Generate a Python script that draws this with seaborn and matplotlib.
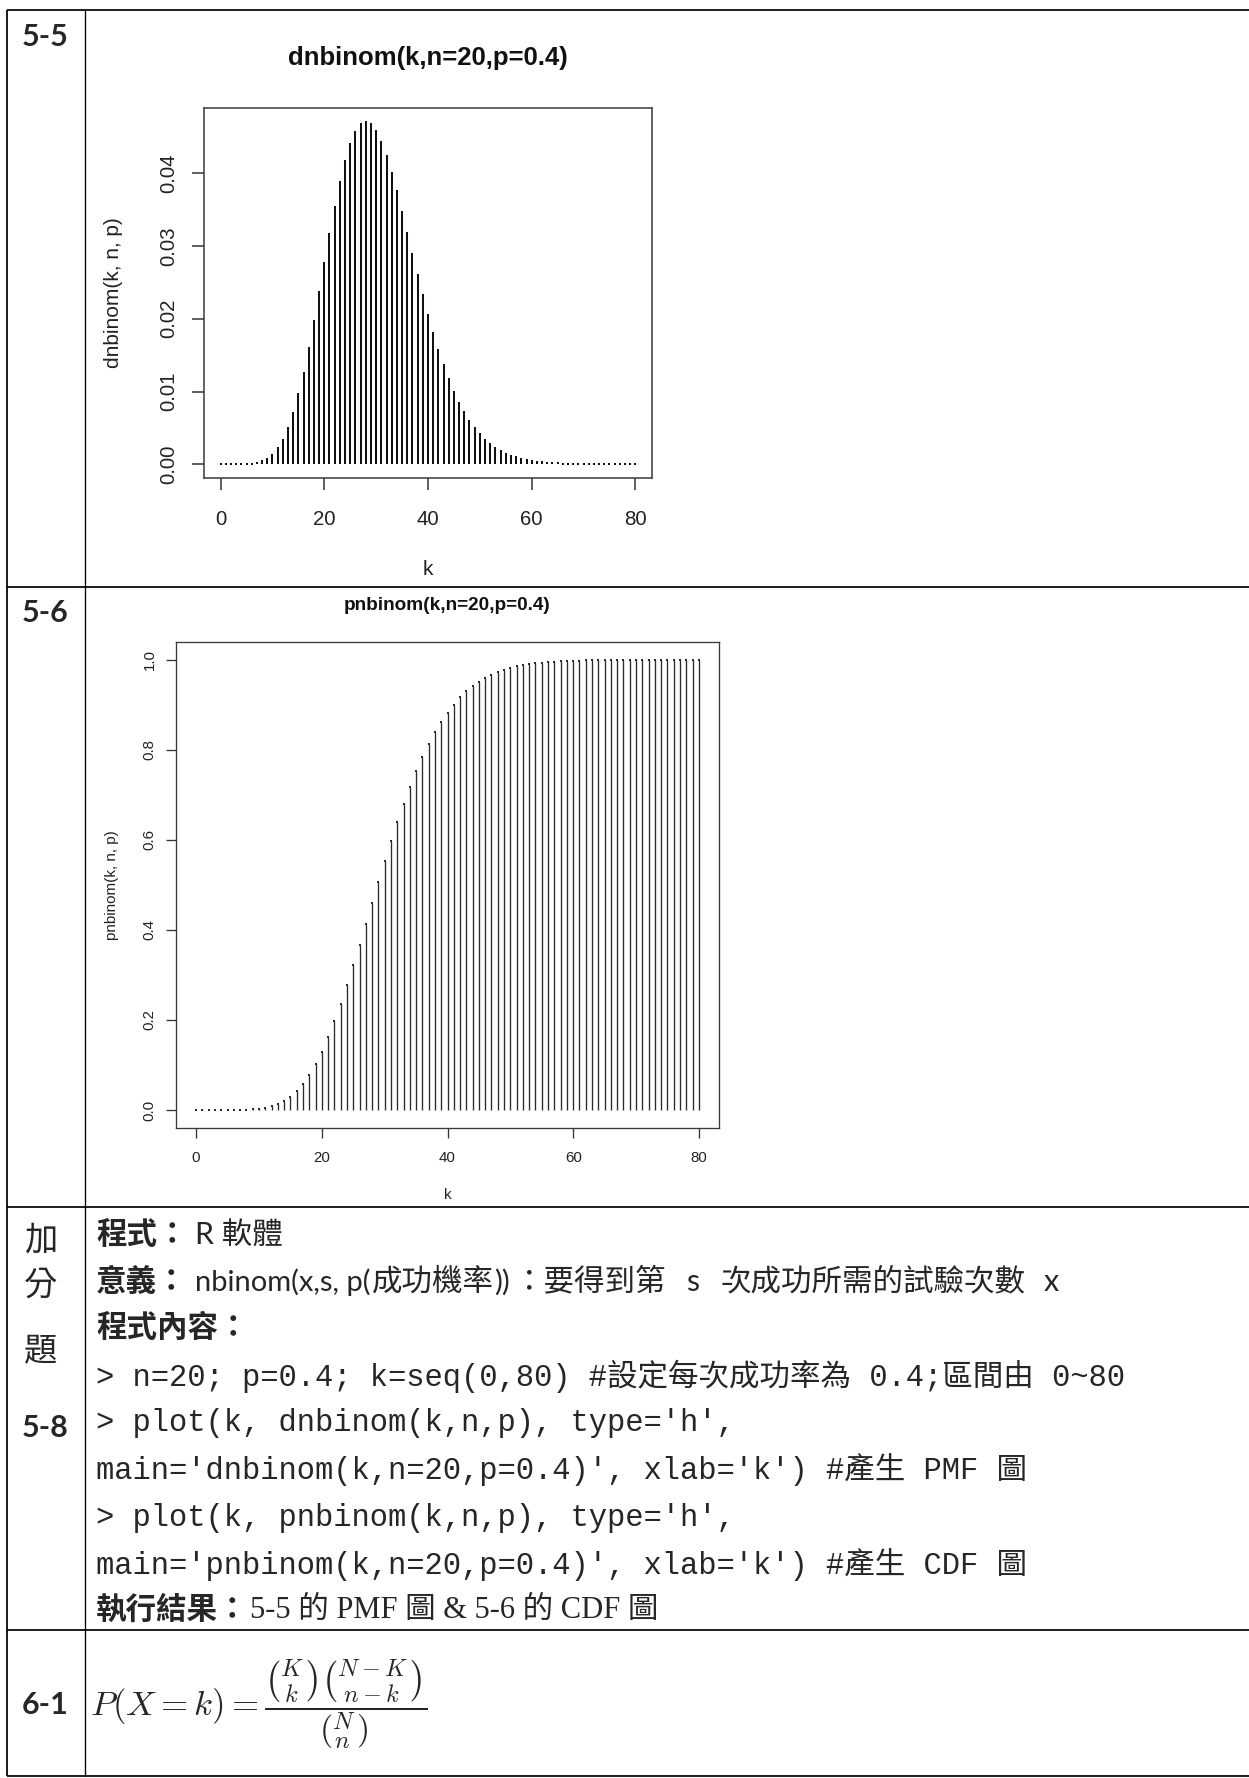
import matplotlib
matplotlib.use("Agg")
import matplotlib.pyplot as plt
import pandas as pd
import seaborn as sns

# k = seq(0, 80)
k_vals = [0, 1, 2, 3, 4, 5, 6, 7, 8, 9, 10, 11, 12, 13, 14, 15, 16, 17, 18, 19, 20,
          21, 22, 23, 24, 25, 26, 27, 28, 29, 30, 31, 32, 33, 34, 35, 36, 37, 38, 39, 40,
          41, 42, 43, 44, 45, 46, 47, 48, 49, 50, 51, 52, 53, 54, 55, 56, 57, 58, 59, 60,
          61, 62, 63, 64, 65, 66, 67, 68, 69, 70, 71, 72, 73, 74, 75, 76, 77, 78, 79, 80]

# dnbinom(k, 20, 0.4) 讀圖估計
pmf_vals = [0.000000, 0.000000, 0.000001, 0.000004, 0.000013, 0.000036, 0.000091,
            0.000202, 0.000410, 0.000765, 0.001332, 0.002179, 0.003378, 0.004989,
            0.007055, 0.009595, 0.012593, 0.016001, 0.019735, 0.023682, 0.027707,
            0.031666, 0.035408, 0.038795, 0.041704, 0.044040, 0.045734, 0.046750,
            0.047084, 0.046759, 0.045824, 0.044346, 0.042406, 0.040093, 0.037498,
            0.034713, 0.031820, 0.028896, 0.026007, 0.023206, 0.020537, 0.018033,
            0.015714, 0.013595, 0.011679, 0.009966, 0.008449, 0.007119, 0.005962,
            0.004964, 0.004111, 0.003385, 0.002773, 0.002260, 0.001833, 0.001480,
            0.001189, 0.000952, 0.000758, 0.000601, 0.000475, 0.000374, 0.000293,
            0.000229, 0.000178, 0.000138, 0.000107, 0.000082, 0.000063, 0.000048,
            0.000037, 0.000028, 0.000021, 0.000016, 0.000012, 0.000009, 0.000007,
            0.000005, 0.000004, 0.000003, 0.000002]

# pnbinom(k, 20, 0.4) 讀圖估計
cdf_vals = [0.0000, 0.0000, 0.0000, 0.0000, 0.0000, 0.0001, 0.0001, 0.0003, 0.0008,
            0.0015, 0.0029, 0.0050, 0.0084, 0.0134, 0.0205, 0.0300, 0.0426, 0.0586,
            0.0784, 0.1021, 0.1298, 0.1614, 0.1968, 0.2356, 0.2773, 0.3214, 0.3671,
            0.4139, 0.4609, 0.5077, 0.5535, 0.5979, 0.6403, 0.6804, 0.7179, 0.7526,
            0.7844, 0.8133, 0.8393, 0.8625, 0.8831, 0.9011, 0.9168, 0.9304, 0.9421,
            0.9520, 0.9605, 0.9676, 0.9736, 0.9785, 0.9826, 0.9860, 0.9888, 0.9911,
            0.9929, 0.9944, 0.9956, 0.9965, 0.9973, 0.9979, 0.9983, 0.9987, 0.9990,
            0.9992, 0.9994, 0.9996, 0.9997, 0.9997, 0.9998, 0.9999, 0.9999, 0.9999,
            0.9999, 1.0000, 1.0000, 1.0000, 1.0000, 1.0000, 1.0000, 1.0000, 1.0000]

pmf_title = "dnbinom(k,n=20,p=0.4)"
cdf_title = "pnbinom(k,n=20,p=0.4)"
pmf_ylabel = "dnbinom(k, n, p)"
cdf_ylabel = "pnbinom(k, n, p)"
x_label = "k"
x_ticks = [0, 20, 40, 60, 80]
x_tick_labels = ["0", "20", "40", "60", "80"]
pmf_yticks = [0.00, 0.01, 0.02, 0.03, 0.04]
pmf_ytick_labels = ["0.00", "0.01", "0.02", "0.03", "0.04"]
cdf_yticks = [0.0, 0.2, 0.4, 0.6, 0.8, 1.0]
cdf_ytick_labels = ["0.0", "0.2", "0.4", "0.6", "0.8", "1.0"]

bonus_chars = ["加", "分", "題"]
code_lines = [
    "> n=20; p=0.4; k=seq(0,80) #設定每次成功率為 0.4;區間由 0~80",
    "> plot(k, dnbinom(k,n,p), type='h',",
    "main='dnbinom(k,n=20,p=0.4)', xlab='k') #產生 PMF 圖",
    "> plot(k, pnbinom(k,n,p), type='h',",
    "main='pnbinom(k,n=20,p=0.4)', xlab='k') #產生 CDF 圖",
]
formula = r"$P(X=k)=\dfrac{\binom{K}{k}\binom{N-K}{n-k}}{\binom{N}{n}}$"

df = pd.DataFrame({"k": k_vals, "pmf": pmf_vals, "cdf": cdf_vals})

sns.set_theme(style="ticks")
plt.rcParams["font.family"] = ["Liberation Sans", "Noto Sans CJK TC"]
plt.rcParams["mathtext.fontset"] = "cm"

W, H = 1249, 1778
fig = plt.figure(figsize=(W / 100, H / 100), dpi=100)
fig.patch.set_facecolor("white")
renderer = fig.canvas.get_renderer()

# 整頁座標（像素）
page = fig.add_axes([0, 0, 1, 1], zorder=0)
page.set_xlim(0, W)
page.set_ylim(H, 0)
page.axis("off")

CJK = ["Noto Sans CJK TC"]
LABEL = ["Lato", "DejaVu Sans"]
MONO = ["Liberation Mono", "Noto Sans CJK TC"]
SERIF = ["Liberation Serif", "Noto Sans CJK TC"]
SANS = ["Lato", "Noto Sans CJK TC"]

# 表格框線
thick, thin = 1.25, 0.95
for yy in [10, 587, 1207, 1630, 1776]:
    page.plot([7, W], [yy, yy], color="black", lw=thick, solid_capstyle="butt")
page.plot([7, 7], [10, 1776], color="black", lw=thick, solid_capstyle="butt")
page.plot([85, 85], [10, 1776], color="black", lw=thin, solid_capstyle="butt")


def draw_h(box, col, lw, color, dot, ylim, yticks, ylabels, title, ylabel,
           fs_title, fs_tick, fs_lab, tick_len, xpad, ypad, spine_lw,
           title_y, ylab_x, xlab_y):
    l, t, r, b = box
    ax = fig.add_axes([l / W, 1 - b / H, (r - l) / W, (b - t) / H], zorder=2)
    ax.vlines(df["k"], 0, df[col], colors=color, linewidth=lw)
    sns.scatterplot(data=df, x="k", y=col, ax=ax, marker="s", s=dot,
                    color=color, linewidth=0, legend=False, zorder=3)
    ax.set_xlim(-3.2, 83.2)
    ax.set_ylim(*ylim)
    ax.set_xticks(x_ticks)
    ax.set_xticklabels(x_tick_labels, fontsize=fs_tick, color="#222222")
    ax.set_yticks(yticks)
    ax.set_yticklabels(ylabels, fontsize=fs_tick, color="#222222",
                       rotation=90, va="center")
    ax.tick_params(axis="both", direction="out", length=tick_len,
                   width=spine_lw, color="#333333")
    ax.tick_params(axis="x", pad=xpad)
    ax.tick_params(axis="y", pad=ypad)
    for sp in ax.spines.values():
        sp.set_visible(True)
        sp.set_linewidth(spine_lw)
        sp.set_color("#3a3a3a")
    ax.grid(False)
    ax.set_title(title, fontsize=fs_title, fontweight="bold", pad=0,
                 y=(b - title_y) / (b - t), va="center", color="#111111")
    ax.set_xlabel(x_label, fontsize=fs_lab, color="#222222")
    ax.xaxis.set_label_coords(0.5, (b - xlab_y) / (b - t))
    ax.xaxis.label.set_va("center")
    ax.set_ylabel(ylabel, fontsize=fs_lab, color="#222222")
    ax.yaxis.set_label_coords((ylab_x - l) / (r - l), 0.5)
    ax.yaxis.label.set_va("center")
    return ax


def chain(x, y, parts):
    # 依序排列不同字型的片段，x 以像素為單位
    for gap, s, kw in parts:
        x += gap
        t = page.text(x, y, s, va="center", **kw)
        x = t.get_window_extent(renderer).x1


# 5-5 PMF
draw_h((204, 108, 652, 478), "pmf", 1.45, "#111111", 2.2,
       (-0.001883, 0.048967), pmf_yticks, pmf_ytick_labels,
       pmf_title, pmf_ylabel, 18.5, 14.7, 15.0, 8.6, 14.7, 9.6, 1.1,
       58, 113, 570)

# 5-6 CDF
draw_h((176, 642, 719, 1128), "cdf", 0.95, "#2a2a2a", 1.0,
       (-0.04, 1.04), cdf_yticks, cdf_ytick_labels,
       cdf_title, cdf_ylabel, 13.7, 10.8, 11.0, 7.0, 9.9, 7.0, 0.95,
       605, 112, 1195)

# 左欄標籤
page.text(45, 37, "5-5", family=LABEL, weight="bold", fontsize=22,
          ha="center", va="center")
page.text(45, 613, "5-6", family=LABEL, weight="bold", fontsize=22,
          ha="center", va="center")
for ch, yy in zip(bonus_chars, [1240, 1285, 1352]):
    page.text(41, yy, ch, family=CJK, fontsize=24, ha="center", va="center")
page.text(45, 1428, "5-8", family=LABEL, weight="bold", fontsize=22,
          ha="center", va="center")
page.text(45, 1705, "6-1", family=LABEL, weight="bold", fontsize=22,
          ha="center", va="center")

# 加分題文字
tx = 96
fs = 22
y_lines = [1235, 1282, 1328, 1376, 1423, 1470, 1518, 1565, 1610]
page.text(tx, y_lines[0], "程式：", family=CJK, weight="bold", fontsize=fs, va="center")
page.text(195, y_lines[0], "R 軟體", family=SANS, fontsize=fs, va="center")

y1 = y_lines[1]
page.text(tx, y1, "意義：", family=CJK, weight="bold", fontsize=fs, va="center")
chain(195, y1, [
    (0, "nbinom(x,s, p(", dict(family=SANS, fontsize=21)),
    (1, "成功機率", dict(family=CJK, fontsize=fs)),
    (1, "))", dict(family=SANS, fontsize=21)),
    (3, "：要得到第", dict(family=CJK, fontsize=fs)),
    (20, "s", dict(family=SANS, fontsize=fs)),
    (22, "次成功所需的試驗次數", dict(family=CJK, fontsize=fs)),
    (18, "x", dict(family=SANS, fontsize=fs)),
])

page.text(tx, y_lines[2], "程式內容：", family=CJK, weight="bold", fontsize=fs, va="center")
for line, yy in zip(code_lines, y_lines[3:8]):
    page.text(tx, yy, line, family=MONO, fontsize=fs, va="center")
page.text(tx, y_lines[8], "執行結果：", family=CJK, weight="bold", fontsize=fs, va="center")
page.text(250, y_lines[8], "5-5 的 PMF 圖 & 5-6 的 CDF 圖", family=SERIF,
          fontsize=fs, va="center")

# 6-1 公式
page.text(90, 1705, formula, fontsize=25, va="center", ha="left")

fig.savefig("out.png", dpi=100, facecolor="white")
plt.close(fig)
